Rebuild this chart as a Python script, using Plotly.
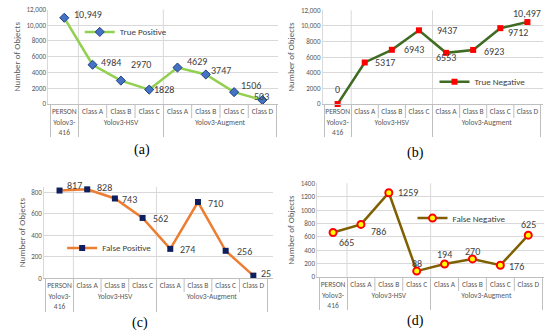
import plotly.graph_objects as go

groups = ["Yolov3-<br>416", "Yolov3-HSV", "Yolov3-HSV", "Yolov3-HSV",
          "Yolov3-Augment", "Yolov3-Augment", "Yolov3-Augment", "Yolov3-Augment"]
classes = ["PERSON", "Class A", "Class B", "Class C", "Class A", "Class B", "Class C", "Class D"]

true_pos = [10949, 4984, 2970, 1828, 4629, 3747, 1506, 503]
true_neg = [0, 5317, 6943, 9437, 6553, 6923, 9712, 10497]
false_pos = [817, 828, 743, 562, 274, 710, 256, 25]
false_neg = [665, 786, 1259, 88, 194, 270, 176, 625]

tp_labels = ["10,949", "4984", "2970", "1828", "4629", "3747", "1506", "503"]
tn_labels = ["0", "5317", "6943", "9437", "6553", "6923", "9712", "10,497"]
fp_labels = [str(v) for v in false_pos]
fn_labels = [str(v) for v in false_neg]

big_ticks = [0, 2000, 4000, 6000, 8000, 10000, 12000]
big_ticktext = ["0", "2000", "4000", "6000", "8000", "10,000", "12,000"]
fp_ticks = [0, 200, 400, 600, 800]
fn_ticks = [0, 200, 400, 600, 800, 1000, 1200, 1400]

FONT = "'Liberation Sans Narrow', Carlito, Arial, sans-serif"
GRID = "#d9d9d9"
TXT = "#404040"
SEP = "#bfbfbf"

# label offsets (dx, dy, xanchor) per point
tp_off = [(8, 3, "left"), (6, 2, "left"), (8, 16, "left"), (3, 0, "left"),
          (7, 6, "left"), (3, 4, "left"), (5, 7, "left"), (-10, 4, "left")]
tn_off = [(0, 14, "center"), (8, 0, "left"), (10, 0, "left"), (16, 0, "left"),
          (0, -5, "center"), (9, -2, "left"), (6, -4, "left"), (0, 9, "center")]
fp_off = [(5, 5, "left"), (8, 2, "left"), (5, -1, "left"), (8, -1, "left"),
          (8, -1, "left"), (8, -1, "left"), (9, -1, "left"), (6, 2, "left")]
fn_off = [(4, -10, "left"), (8, -7, "left"), (7, 0, "left"), (0, 8, "center"),
          (0, 10, "center"), (0, 7, "center"), (7, -1, "left"), (0, 11, "center")]

panels = [
    dict(name="True Positive", y=true_pos, lab=tp_labels, off=tp_off, line="#92D050",
         marker=dict(symbol="diamond", size=7, color="#4472C4", line=dict(color="#1F3F7F", width=1)),
         xd=[0.088, 0.506], yd=[0.6905, 0.9717], rng=[0, 12000], tv=big_ticks, tt=big_ticktext,
         leg=dict(x=0.145, y=0.905), tag="(a)", tagpos=(142, 150)),
    dict(name="True Negative", y=true_neg, lab=tn_labels, off=tn_off, line="#3F6B22",
         marker=dict(symbol="square", size=6, color="#FF0000", line=dict(color="#FF0000", width=0)),
         xd=[0.587, 0.988], yd=[0.6905, 0.9693], rng=[0, 12000], tv=big_ticks, tt=big_ticktext,
         leg=dict(x=0.79, y=0.757), tag="(b)", tagpos=(415, 153)),
    dict(name="False Positive", y=false_pos, lab=fp_labels, off=fp_off, line="#ED7D31",
         marker=dict(symbol="square", size=6, color="#0D1F5C", line=dict(color="#0D1F5C", width=0)),
         xd=[0.0806, 0.497], yd=[0.1717, 0.4435], rng=[0, 850], tv=fp_ticks, tt=[str(v) for v in fp_ticks],
         leg=dict(x=0.113, y=0.262), tag="(c)", tagpos=(140, 323)),
    dict(name="False Negative", y=false_neg, lab=fn_labels, off=fn_off, line="#7F6000",
         marker=dict(symbol="circle", size=7, color="#FFFF00", line=dict(color="#FF0000", width=2)),
         xd=[0.577, 0.989], yd=[0.1756, 0.4545], rng=[0, 1400], tv=fn_ticks, tt=[str(v) for v in fn_ticks],
         leg=dict(x=0.75, y=0.351), tag="(d)", tagpos=(415, 321)),
]

fig = go.Figure()
annotations = []
shapes = []
for i, p in enumerate(panels):
    n = i + 1
    xa = "x" if n == 1 else f"x{n}"
    ya = "y" if n == 1 else f"y{n}"
    lg = "legend" if n == 1 else f"legend{n}"
    fig.add_trace(go.Scatter(
        x=[groups, classes], y=p["y"], name=p["name"], mode="lines+markers",
        line=dict(color=p["line"], width=2.5), marker=p["marker"],
        xaxis=xa, yaxis=ya, legend=lg, cliponaxis=False, showlegend=True))
    xkey = "xaxis" if n == 1 else f"xaxis{n}"
    ykey = "yaxis" if n == 1 else f"yaxis{n}"
    fig.layout[xkey] = dict(
        domain=p["xd"], anchor=ya, type="multicategory", showgrid=False,
        showline=True, linecolor=SEP, linewidth=1, tickangle=0, ticks="",
        showdividers=True, dividercolor=SEP, dividerwidth=1,
        tickfont=dict(family=FONT, size=7.5, color="#595959"), fixedrange=True)
    fig.layout[ykey] = dict(
        domain=p["yd"], anchor=xa, range=p["rng"], tickvals=p["tv"], ticktext=p["tt"],
        showgrid=True, gridcolor=GRID, gridwidth=1, zeroline=False,
        showline=True, linecolor=GRID, linewidth=1,
        tickfont=dict(family=FONT, size=7, color="#595959"),
        title=dict(text="Number of Objects", font=dict(family=FONT, size=9, color="#595959"), standoff=4),
        fixedrange=True)
    fig.layout[lg] = dict(
        x=p["leg"]["x"], y=p["leg"]["y"], xanchor="left", yanchor="middle",
        bgcolor="rgba(0,0,0,0)", font=dict(family=FONT, size=9, color=TXT),
        itemwidth=30, tracegroupgap=0)
    for j, (v, t) in enumerate(zip(p["y"], p["lab"])):
        dx, dy, anc = p["off"][j]
        annotations.append(dict(
            x=j, y=v, xref=xa, yref=ya, text=t, showarrow=False,
            xanchor=anc, yanchor="middle", xshift=dx, yshift=dy,
            font=dict(family=FONT, size=10, color=TXT)))
    # group boundaries as vertical gridlines in plot area
    for bx in [0.5, 3.5]:
        shapes.append(dict(type="line", xref=xa, yref=f"{ya} domain", x0=bx, x1=bx, y0=0, y1=1,
                           line=dict(color=GRID, width=1), layer="below"))
    # separators between inner categories in first label row
    for bx in [1.5, 2.5, 4.5, 5.5, 6.5]:
        shapes.append(dict(type="line", xref=xa, yref=f"{ya} domain", ysizemode="pixel", yanchor=0,
                           x0=bx, x1=bx, y0=0, y1=-14, line=dict(color=SEP, width=1), layer="above"))
    tx, ty = p["tagpos"]
    annotations.append(dict(
        x=tx / 550, y=1 - ty / 336, xref="paper", yref="paper", text=p["tag"], showarrow=False,
        xanchor="center", yanchor="middle",
        font=dict(family="'Liberation Serif', 'Times New Roman', serif", size=14, color="#000000")))

fig.update_layout(
    width=550, height=336, margin=dict(l=0, r=0, t=0, b=0, autoexpand=False),
    paper_bgcolor="white", plot_bgcolor="white",
    annotations=annotations, shapes=shapes)

fig.write_html("out.html", config={"displayModeBar": False},
               post_script="document.body.style.margin='0';")
